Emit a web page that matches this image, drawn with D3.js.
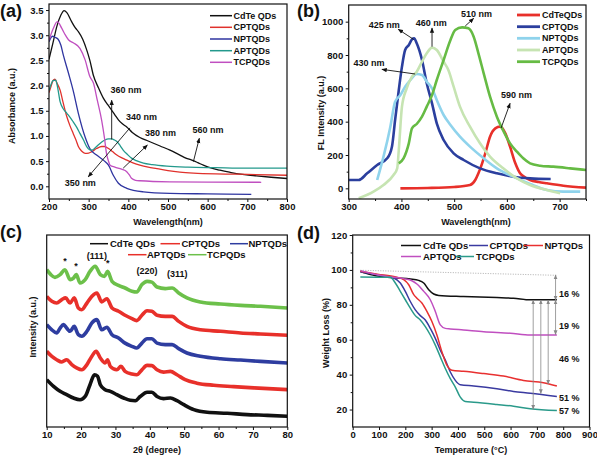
<!DOCTYPE html>
<html><head><meta charset="utf-8">
<script src="https://cdn.jsdelivr.net/npm/d3@7"></script>
<style>
body{margin:0;background:#fff}
text{font-family:"Liberation Sans",Arial,sans-serif;font-weight:bold;fill:#111}
</style>
</head><body>
<svg id="chart" width="597" height="458"></svg>
<script>
// ---------- Panel (a) UV-vis absorbance ----------
const absNames = ["CdTe QDs","CPTQDs","NPTQDs","APTQDs","TCPQDs"];
const absColors = ["#111111","#e0312c","#2f35a0","#23998c","#c04fc0"];
const absCdTe = [[200,2.52],[210,2.85],[220,3.18],[230,3.4],[238,3.49],[245,3.45],[257,3.27],[266,3.15],[274,3.07],[285,2.92],[295,2.71],[303,2.5],[312,2.2],[325,1.95],[337,1.75],[348,1.62],[358,1.51],[366,1.42],[375,1.32],[385,1.24],[396,1.18],[410,1.07],[429,0.97],[450,0.9],[480,0.8],[505,0.72],[530,0.62],[545,0.56],[560,0.52],[575,0.47],[589,0.42],[610,0.36],[631,0.32],[655,0.28],[682,0.24],[720,0.21],[760,0.18],[800,0.155]];
const absCPT = [[200,1.86],[205,1.98],[210,2.1],[215,2.13],[220,2.05],[228,1.91],[236,1.65],[245,1.38],[253,1.2],[261,1.05],[268,0.92],[274,0.79],[282,0.7],[291,0.655],[300,0.66],[308,0.69],[320,0.75],[333,0.79],[340,0.79],[350,0.75],[360,0.69],[371,0.62],[385,0.56],[396,0.52],[410,0.47],[429,0.42],[450,0.38],[472,0.35],[500,0.31],[530,0.28],[564,0.26],[620,0.245],[680,0.24],[800,0.22]];
const absNPT = [[200,2.87],[205,2.95],[209,2.98],[215,2.96],[223,2.92],[230,2.8],[236,2.61],[249,2.25],[261,1.9],[274,1.45],[291,0.98],[303,0.75],[320,0.62],[337,0.52],[350,0.42],[362,0.22],[375,0.06],[396,-0.04],[438,-0.11],[505,-0.14],[600,-0.15],[710,-0.16]];
const absAPT = [[200,1.9],[205,2.02],[210,2.1],[217,2.11],[222,1.95],[228,1.68],[235,1.55],[245,1.45],[255,1.35],[261,1.28],[270,1.17],[278,1.05],[287,0.92],[295,0.79],[302,0.73],[308,0.72],[316,0.76],[324,0.82],[333,0.88],[341,0.92],[350,0.94],[358,0.94],[365,0.92],[371,0.89],[380,0.8],[387,0.72],[398,0.63],[408,0.56],[420,0.51],[438,0.46],[460,0.43],[497,0.4],[550,0.38],[620,0.37],[700,0.36],[800,0.36]];
const absTCP = [[200,2.9],[210,3.12],[221,3.27],[232,3.14],[240,3.02],[249,2.91],[261,2.85],[278,2.74],[291,2.51],[303,2.18],[312,2.05],[322,1.7],[333,1.3],[340,0.95],[345,0.65],[350,0.5],[354,0.42],[366,0.38],[383,0.34],[396,0.29],[403,0.22],[408,0.16],[418,0.12],[429,0.11],[505,0.09],[600,0.085],[735,0.08]];
const absXTicks = [200,300,400,500,600,700,800];
const absYTicks = [0,0.5,1,1.5,2,2.5,3,3.5];
const absNotes = [["360 nm",355,1.86],["340 nm",394,1.31],["380 nm",442,0.99],["560 nm",562,1.05],["350 nm",240,0.0]];
const absArrows = [[[358,0.93],[358,1.71]],[[404,1.16],[299,0.19]],[[387,0.36],[448,0.82]],[[564,0.49],[579,0.955]]];

// ---------- Panel (b) fluorescence ----------
const flNames = ["CdTeQDs","CPTQDs","NPTQDs","APTQDs","TCPQDs"];
const flColors = ["#e8302a","#2b3f9e","#8fd3ec","#c6e4b2","#66bb44"];
const flCdTe = [[398,0],[450,2],[500,8],[530,20],[540,50],[546,90],[553,150],[559,210],[568,310],[578,360],[587,370],[597,330],[606,250],[616,150],[625,90],[635,65],[644,50],[660,38],[676,30],[707,16],[750,4]];
const flCPT = [[300,50],[319,50],[335,90],[354,140],[373,180],[382,250],[388,410],[395,590],[401,730],[407,830],[414,860],[420,894],[424,900],[429,870],[439,770],[448,630],[458,510],[467,390],[480,290],[499,210],[518,170],[549,120],[581,90],[612,70],[644,60],[683,56]];
const flNPT = [[354,50],[366,190],[379,370],[388,520],[398,560],[407,610],[417,650],[429,686],[439,680],[448,640],[458,600],[467,530],[480,440],[493,380],[511,310],[530,250],[556,180],[581,120],[612,70],[644,26],[676,-10],[707,-20],[739,-20]];
const flAPT = [[319,-60],[347,-20],[366,20],[385,80],[392,120],[395,230],[401,490],[410,600],[420,670],[429,700],[439,760],[448,810],[458,844],[467,830],[480,760],[489,710],[499,610],[511,490],[530,370],[549,270],[568,190],[593,120],[619,60],[644,20],[676,-10],[701,-30]];
const flTCP = [[395,150],[404,180],[414,270],[420,360],[429,386],[439,430],[448,490],[458,560],[467,650],[480,770],[493,890],[502,950],[515,966],[527,960],[537,910],[546,810],[556,690],[568,550],[581,430],[594,340],[606,270],[619,220],[631,180],[644,150],[663,136],[688,130],[720,120],[750,110]];
const flXTicks = [300,400,500,600,700];
const flYTicks = [0,200,400,600,800,1000];
const flNotes = [["425 nm",338,962],["460 nm",427,974],["510 nm",513,1031],["430 nm",309,734],["590 nm",589,542]];
const flArrows = [[[423,894],[394,954]],[[458,850],[458,962]],[[521,974],[537,1020]],[[426,686],[363,714]],[[589,362],[606,510]]];

// ---------- Panel (c) XRD ----------
const xrdNames = ["CdTe QDs","CPTQDs","NPTQDs","APTQDs","TCPQDs"];
const xrdColors = ["#111111","#e8302a","#2e3da0","#e8302a","#6cc04a"];
const xrdCdTe = [[10,24.8],[12,21.3],[13.9,18.7],[15.8,17],[17.8,15.2],[19.7,14.3],[21.2,16],[22.6,22.2],[23.9,27.4],[24.8,26.6],[25.6,22.2],[27,19.6],[28.5,18.7],[30.4,17],[32.4,15.2],[34.3,14],[35.8,13.8],[37.2,16],[39.2,18.2],[40.6,18.2],[42.1,16],[44,14.9],[46,15.2],[47.9,13.8],[49.9,11.7],[52.8,9.1],[56.7,7.7],[62.5,7.2],[68.3,6.5],[74.2,6.1],[80,5.6]];
const xrdCPT = [[10,39.7],[11.5,37],[12.9,35.3],[14.4,34.1],[15.8,35.3],[17.3,32.7],[18.7,31],[20.2,30],[21.7,32.7],[23.1,37],[24.4,39.7],[25.6,36.2],[27,33.6],[27.7,35.3],[28.5,31.8],[30.4,30],[31.6,31.8],[32.8,29.2],[34.8,27.8],[36.2,27.4],[37.7,30],[39.2,32.3],[40.6,32.2],[42.1,30],[44,28.8],[46,29.2],[47.9,27.4],[50.3,24.8],[53.7,23],[58.6,21.9],[64.4,21.2],[70.3,20.5],[80,19.6]];
const xrdNPT = [[10,53.7],[11.5,51],[12.9,49.3],[13.9,51.9],[14.9,53.7],[15.8,51.9],[16.8,50.2],[18,52.8],[19.2,48.4],[20.2,47.6],[21.7,50.2],[23.1,54.5],[24.6,56.3],[26,51],[27.5,52.3],[29,48.4],[30.9,46.7],[32.8,44],[34.8,42.3],[36.2,41.4],[37.7,44],[39.2,46.3],[40.6,46.3],[42.1,44],[44.5,43.2],[46.5,43.2],[48.4,41.1],[50.8,38.8],[54.7,37.1],[60.6,35.8],[66.4,35.1],[72.2,34.4],[80,33.6]];
const xrdAPT = [[10,68.5],[11.5,65.9],[12.9,65],[14.4,66.8],[15.5,67.7],[16.8,65],[18,67.7],[19.2,62.4],[20.2,61.5],[21.7,65],[23.1,68.5],[24.6,70.3],[26,65.6],[27.5,67.3],[29,62.4],[30.9,60.7],[32.8,58.6],[34.8,56.8],[36.2,55.8],[37.7,58.6],[39.2,61],[40.6,60.7],[42.1,58.6],[44.5,58],[46.5,58],[48.4,55.4],[50.8,52.8],[54.7,51],[60.6,50.2],[66.4,49.3],[72.2,48.8],[80,48.1]];
const xrdTCP = [[10,82.5],[11.2,79.9],[12.4,78.5],[13.9,79.9],[15.3,82.5],[16.8,77.3],[17.8,78.1],[18.6,79.9],[19.7,75.5],[21.2,77.3],[22.6,81.6],[24.1,84.3],[25.6,79.9],[26.8,79],[27.7,81.6],[29,76.4],[30.9,74.3],[32.8,72.9],[34.8,71.2],[36.2,70.8],[37.7,74.7],[39.2,76.4],[40.6,76],[42.1,73.4],[44.5,72.6],[46.5,72.9],[48.4,70.3],[50.8,67.7],[54.7,65.6],[60.6,64.5],[66.4,63.8],[72.2,63.3],[80,62.4]];
const xrdXTicks = [10,20,30,40,50,60,70,80];
const xrdPeakLabels = [["(111)",24.6,88],["(220)",39.2,80],["(311)",48,78.5]];
const xrdStars = [[15.3,85.5],[18.5,83],[27.8,84.3]];

// ---------- Panel (d) TGA ----------
const tgaNames = ["CdTe QDs","CPTQDs","NPTQDs","APTQDs","TCPQDs"];
const tgaColors = ["#111111","#3a3aa0","#e83030","#c04fc0","#2a9a8a"];
const tgaCdTe = [[29,99.2],[67,97.3],[118,96],[168,95.4],[219,94.8],[251,94],[270,92.5],[289,88.7],[308,86.2],[327,85.4],[421,84.8],[548,84.2],[611,83.8],[675,82.9],[776,82.9]];
const tgaCPT = [[29,98.8],[92,97.3],[156,95.4],[181,92.5],[200,87.7],[219,81.9],[238,77.1],[257,73.8],[276,71.3],[295,66.5],[314,60.8],[333,54],[352,48.3],[371,41.5],[390,36.7],[409,34.2],[460,33.5],[548,31.9],[611,30.4],[675,29.4],[776,27.5]];
const tgaNPT = [[29,99.2],[105,97.3],[168,95.8],[194,94.4],[213,91.5],[232,85.8],[244,83.8],[263,81],[282,76.2],[301,70.4],[320,62.7],[339,53.1],[358,45.4],[377,42.5],[421,41.9],[498,40.6],[573,39.2],[649,36.7],[725,35.4],[776,33.5]];
const tgaAPT = [[29,99.6],[80,97.7],[143,96],[194,95],[225,93.8],[244,91.9],[270,87.7],[295,82.9],[314,76.2],[333,68.5],[352,66.5],[371,66.2],[421,65.6],[498,64.6],[599,63.7],[675,62.7],[776,62.7]];
const tgaTCP = [[29,96],[143,95.8],[162,92.5],[181,87.7],[200,82.9],[219,78.1],[238,73.8],[257,71.3],[276,67.5],[295,62.7],[314,56.9],[333,50.2],[352,43.5],[371,37.7],[390,32.9],[409,27.1],[428,24.6],[460,24.2],[548,22.9],[611,21.9],[675,20.4],[776,19.4]];
const tgaXTicks = [0,100,200,300,400,500,600,700,800,900];
const tgaYTicks = [20,40,60,80,100,120];
const tgaRefLine = [[29,99.8],[776,96.9]];
const tgaArrows = [[771,97.1,82.7],[771,82.7,62.9],[686,82.7,20.2],[715,82.7,29.2],[743,82.7,34.6]];
const tgaLabels = [["16 %",86.5],["19 %",68],["46 %",49],["51 %",26.5],["57 %",19.2]];

// ================= drawing =================
const svg = d3.select("#chart");
const defs = svg.append("defs");
function mk(id, color, orient){
  defs.append("marker").attr("id",id).attr("viewBox","0 0 10 10").attr("refX",9).attr("refY",5)
    .attr("markerWidth",6).attr("markerHeight",6).attr("orient",orient)
    .append("path").attr("d","M0,1L10,5L0,9z").attr("fill",color);
}
mk("ah","#111","auto");
mk("ahg","#888","auto");
mk("ahgs","#888","auto-start-reverse");

function panel(c){
  const g = svg.append("g");
  const x = d3.scaleLinear().domain(c.xd).range([c.l,c.r]);
  const y = d3.scaleLinear().domain(c.yd).range([c.b,c.t]);
  const cid = "clip"+c.id;
  defs.append("clipPath").attr("id",cid).append("rect")
    .attr("x",c.l).attr("y",c.t).attr("width",c.r-c.l).attr("height",c.b-c.t);
  const line = d3.line().x(d=>x(d[0])).y(d=>y(d[1])).curve(d3.curveMonotoneX);
  const pg = g.append("g").attr("clip-path",`url(#${cid})`);
  c.series.forEach((s,i)=>{
    pg.append("path").datum(s).attr("d",line).attr("fill","none")
      .attr("stroke",c.colors[i]).attr("stroke-width",c.sw).attr("stroke-linejoin","round");
  });
  const fs = c.fs || "9.5px";
  g.append("g").attr("transform",`translate(0,${c.b})`)
    .call(d3.axisBottom(x).tickValues(c.xt).tickSize(3).tickSizeOuter(0).tickPadding(1.5).tickFormat(c.xf||d3.format("d")));
  if (c.xm) g.append("g").attr("transform",`translate(0,${c.b})`)
    .call(d3.axisBottom(x).tickValues(c.xm).tickSize(2).tickSizeOuter(0).tickFormat(""));
  if (c.yt){
    g.append("g").attr("transform",`translate(${c.l},0)`)
      .call(d3.axisLeft(y).tickValues(c.yt).tickSize(3).tickSizeOuter(0).tickPadding(2.5).tickFormat(c.yf||d3.format("d")));
    if (c.ym) g.append("g").attr("transform",`translate(${c.l},0)`)
      .call(d3.axisLeft(y).tickValues(c.ym).tickSize(2).tickSizeOuter(0).tickFormat(""));
  }
  g.selectAll(".tick text").style("font-size",fs).style("font-weight","bold");
  g.selectAll(".domain").remove();
  g.selectAll(".tick line").attr("stroke","#111").attr("stroke-width",1);
  g.append("rect").attr("x",c.l).attr("y",c.t).attr("width",c.r-c.l).attr("height",c.b-c.t)
    .attr("fill","none").attr("stroke","#111").attr("stroke-width",1.2);
  g.append("text").attr("x",c.xtx).attr("y",c.xty).attr("text-anchor","middle")
    .style("font-size","9px").text(c.xtitle);
  g.append("text").attr("transform",`translate(${c.ytx},${c.yty}) rotate(-90)`).attr("text-anchor","middle")
    .style("font-size","9px").text(c.ytitle);
  g.append("text").attr("x",c.lx).attr("y",c.ly).style("font-size","18px").text(c.label);
  c.legend.forEach(it=>{
    g.append("line").attr("x1",it[0]).attr("x2",it[1]).attr("y1",it[3]).attr("y2",it[3])
      .attr("stroke",c.colors[it[4]]).attr("stroke-width",c.lsw);
    g.append("text").attr("x",it[2]).attr("y",it[3]).attr("dy","0.35em")
      .style("font-size",c.lfs).text(c.names[it[4]]);
  });
  return {g,x,y};
}
function notes(P, list){
  list.forEach(n=>P.g.append("text").attr("x",P.x(n[1])).attr("y",P.y(n[2])).style("font-size","9px").text(n[0]));
}
function arrows(P, list){
  list.forEach(a=>P.g.append("line").attr("x1",P.x(a[0][0])).attr("y1",P.y(a[0][1]))
    .attr("x2",P.x(a[1][0])).attr("y2",P.y(a[1][1])).attr("stroke","#111").attr("stroke-width",0.9).attr("marker-end","url(#ah)"));
}

// (a)
const A = panel({id:"a", l:49,r:287,t:4,b:199, xd:[200,800], yd:[-0.252,3.62],
  series:[absCdTe,absCPT,absNPT,absAPT,absTCP], colors:absColors, names:absNames, sw:1.3,
  xt:absXTicks, xm:[250,350,450,550,650,750], yt:absYTicks, ym:[0.25,0.75,1.25,1.75,2.25,2.75,3.25],
  xf:d3.format("d"), yf:d3.format(".1f"),
  xtitle:"Wavelength(nm)", xtx:168, xty:225, ytitle:"Absorbance (a.u.)", ytx:15, yty:106,
  label:"(a)", lx:0, ly:17, lsw:1.5, lfs:"9px",
  legend:[[210,232,233.5,15.7,0],[210,232,233.5,27.3,1],[210,232,233.5,39,2],[210,232,233.5,50.7,3],[210,232,233.5,62.3,4]]
});
notes(A, absNotes); arrows(A, absArrows);

// (b)
const B = panel({id:"b", l:348.7,r:586,t:5,b:199, xd:[300,750], yd:[-64,1100],
  series:[flCdTe,flCPT,flNPT,flAPT,flTCP], colors:flColors, names:flNames, sw:2.6,
  xt:flXTicks, xm:[350,450,550,650,750], yt:flYTicks, ym:[100,300,500,700,900],
  xtitle:"Wavelength(nm)", xtx:476, xty:225, ytitle:"FL Intensity (a.u.)", ytx:324, yty:113,
  label:"(b)", lx:297, ly:17, lsw:2.8, lfs:"9px",
  legend:[[517,540,542,15,0],[517,540,542,26.7,1],[517,540,542,38.3,2],[517,540,542,50,3],[517,540,542,61.7,4]]
});
notes(B, flNotes); arrows(B, flArrows);

// (c)
const C = panel({id:"c", l:46.7,r:287.3,t:235,b:427, xd:[10,80], yd:[0,100.7],
  series:[xrdCdTe,xrdCPT,xrdNPT,xrdAPT,xrdTCP], colors:xrdColors, names:xrdNames, sw:3.6,
  xt:xrdXTicks, xm:[15,25,35,45,55,65,75],
  xtitle:"2θ (degree)", xtx:157, xty:453, ytitle:"Intensity (a.u.)", ytx:36, yty:327,
  label:"(c)", lx:0, ly:238, lsw:1.5, lfs:"9.5px",
  legend:[[90,108,110,243.7,0],[160.5,180,181.5,243.7,1],[230,248,248.5,243.7,2],[128,146.5,147,254.7,3],[188,206.5,207,254.7,4]]
});
xrdPeakLabels.forEach(p=>C.g.append("text").attr("x",C.x(p[1])).attr("y",C.y(p[2])).attr("text-anchor","middle").style("font-size","9px").text(p[0]));
xrdStars.forEach(s=>C.g.append("text").attr("x",C.x(s[0])).attr("y",C.y(s[1])).attr("text-anchor","middle").style("font-size","9px").text("*"));

// (d)
const D = panel({id:"d", l:352.7,r:589.5,t:235,b:427, xd:[0,900], yd:[10,120],
  series:[tgaCdTe,tgaCPT,tgaNPT,tgaAPT,tgaTCP], colors:tgaColors, names:tgaNames, sw:1.5,
  xt:tgaXTicks, yt:tgaYTicks, ym:[30,50,70,90,110],
  xtitle:"Temperature (°C)", xtx:471, xty:453, ytitle:"Weight Loss (%)", ytx:329, yty:333,
  label:"(d)", lx:297, ly:239, lsw:1.5, lfs:"9.5px",
  legend:[[401,421,423,245.5,0],[469,488,489.5,245.5,1],[524,543,544.5,245.5,2],[401,421,423,256.5,3],[456,474,476,256.5,4]]
});
D.g.append("line").attr("x1",D.x(tgaRefLine[0][0])).attr("y1",D.y(tgaRefLine[0][1]))
  .attr("x2",D.x(tgaRefLine[1][0])).attr("y2",D.y(tgaRefLine[1][1]))
  .attr("stroke","#999").attr("stroke-width",0.8).attr("stroke-dasharray","1,1.5");
tgaArrows.forEach(a=>D.g.append("line").attr("x1",D.x(a[0])).attr("x2",D.x(a[0]))
  .attr("y1",D.y(a[1])).attr("y2",D.y(a[2])).attr("stroke","#888").attr("stroke-width",0.8)
  .attr("marker-start","url(#ahgs)").attr("marker-end","url(#ahg)"));
tgaLabels.forEach(l=>D.g.append("text").attr("x",559).attr("y",D.y(l[1])).attr("dy","0.35em").style("font-size","9px").text(l[0]));
</script>
</body></html>
